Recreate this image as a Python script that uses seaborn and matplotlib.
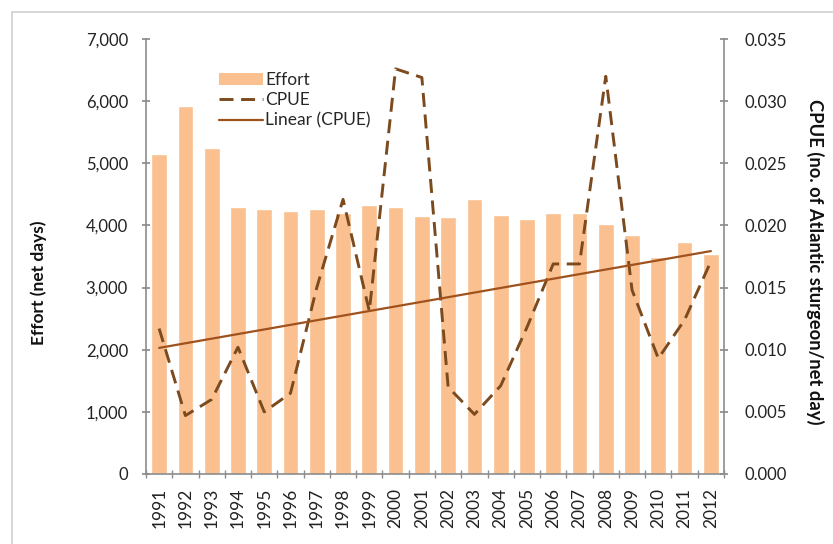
import numpy as np
import pandas as pd
import matplotlib
matplotlib.use('Agg')
import matplotlib.pyplot as plt
import seaborn as sns
from matplotlib.ticker import FuncFormatter, FormatStrFormatter
from matplotlib.patches import Patch, Rectangle
from matplotlib.lines import Line2D

years = [str(y) for y in range(1991, 2013)]
effort = [5150, 5920, 5240, 4300, 4270, 4230, 4260, 4200, 4330, 4300, 4150,
          4130, 4420, 4170, 4100, 4200, 4200, 4030, 3850, 3500, 3740, 3540]
cpue = [0.0117, 0.0047, 0.0060, 0.0102, 0.0050, 0.0065, 0.0150, 0.0221,
        0.0131, 0.0326, 0.0319, 0.0070, 0.0048, 0.0071, 0.0118, 0.0169,
        0.0169, 0.0320, 0.0148, 0.0093, 0.0124, 0.0171]
legend_labels = ["Effort", "CPUE", "Linear (CPUE)"]

BAR_C = '#FAC090'
DASH_C = '#7B4A1E'
TREND_C = '#A0521D'
SPINE_C = '#8C8C8C'

sns.set_theme(style='white')
plt.rcParams['font.family'] = ['Lato', 'DejaVu Sans']

df = pd.DataFrame({'Year': years, 'Effort': effort, 'CPUE': cpue,
                   'idx': np.arange(len(years))})

fig = plt.figure(figsize=(8.33, 5.44), dpi=100)
ax = fig.add_axes([146/833, 70/544, 578/833, 435/544])

sns.barplot(data=df, x='Year', y='Effort', color=BAR_C, saturation=1,
            width=0.6, ax=ax)

ax2 = ax.twinx()
sns.lineplot(data=df, x='idx', y='CPUE', ax=ax2, color=DASH_C, lw=2.1,
             linestyle=(0, (4.8, 2.6)))
sns.regplot(data=df, x='idx', y='CPUE', scatter=False, ci=None, ax=ax2,
            color=TREND_C, line_kws={'lw': 1.6}, truncate=True)

ax.set_xlim(-0.5, len(years) - 0.5)
ax.set_ylim(0, 7000)
ax2.set_ylim(0, 0.035)
ax.set_yticks(np.arange(0, 7001, 1000))
ax2.set_yticks(np.arange(0, 0.0351, 0.005))
ax.yaxis.set_major_formatter(FuncFormatter(lambda v, p: f"{int(v):,}"))
ax2.yaxis.set_major_formatter(FormatStrFormatter('%.3f'))

ax.set_xticks(range(len(years)))
ax.set_xticklabels(years, rotation=90)
ax.set_xticks(np.arange(-0.5, len(years), 1), minor=True)
ax.tick_params(axis='x', which='major', length=0, pad=10, labelsize=12.5,
               labelcolor='#222222')
ax.tick_params(axis='x', which='minor', bottom=True, direction='inout',
               length=6, color=SPINE_C, width=1)
ax.tick_params(axis='y', left=True, direction='inout', length=6,
               color=SPINE_C, pad=10, labelsize=12, labelcolor='#222222')
ax2.tick_params(axis='y', right=True, direction='inout', length=6,
                color=SPINE_C, pad=12, labelsize=12, labelcolor='#222222')

for s in ['top', 'right']:
    ax.spines[s].set_visible(False)
for s in ['left', 'bottom']:
    ax.spines[s].set_color(SPINE_C)
    ax.spines[s].set_linewidth(1.2)
for s in ['top', 'left', 'bottom']:
    ax2.spines[s].set_visible(False)
ax2.spines['right'].set_color(SPINE_C)
ax2.spines['right'].set_linewidth(1.2)

ax.set_xlabel('')
ax2.set_xlabel('')
ax.set_ylabel('Effort (net days)', fontsize=12.5, fontweight='bold',
              color='#111111')
ax.yaxis.set_label_coords(-0.171, 0.44)
ax2.set_ylabel('CPUE (no. of Atlantic sturgeon/net day)', fontsize=13.2,
               fontweight='bold', color='#111111', rotation=270)
ax2.yaxis.set_label_coords(1.142, 0.487)
ax2.yaxis.label.set_verticalalignment('bottom')

handles = [Patch(facecolor=BAR_C, edgecolor='none'),
           Line2D([], [], color=DASH_C, lw=2.1, linestyle=(0, (4.8, 2.6))),
           Line2D([], [], color=TREND_C, lw=1.6)]
ax2.legend(handles, legend_labels, loc='upper left',
           bbox_to_anchor=(0.115, 0.94), frameon=False, fontsize=12.5,
           handlelength=2.5, handletextpad=0.15, labelspacing=0.25,
           borderaxespad=0)

fig.patches.append(Rectangle((12/833, -0.1), 1.2, 1 - 12/544 + 0.1,
                             transform=fig.transFigure, fill=False,
                             edgecolor='#CFCFCF', lw=1.2))

fig.savefig('out.png', dpi=100)
